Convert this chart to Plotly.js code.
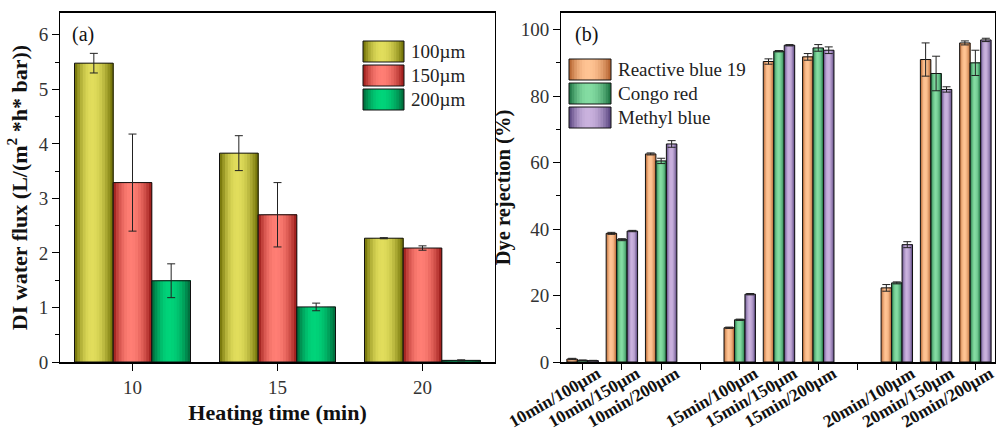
<!DOCTYPE html>
<html><head><meta charset="utf-8">
<script src="https://cdn.plot.ly/plotly-3.0.1.min.js"></script>
<style>html,body{margin:0;padding:0;background:#fff}#chart{width:999px;height:432px}</style>
</head><body><div id="chart"></div>
<script>
// ---------- Panel (a) data ----------
const heatTimes = ['10', '15', '20'];
const fluxSeriesNames = ['100µm', '150µm', '200µm'];
const flux100 = [5.48, 3.83, 2.27];
const flux150 = [3.29, 2.70, 2.09];
const flux200 = [1.49, 1.01, 0.03];
const fluxErr100 = [0.18, 0.32, 0.01];
const fluxErr150 = [0.89, 0.59, 0.04];
const fluxErr200 = [0.31, 0.07, 0.01];

// ---------- Panel (b) data ----------
const dyeCats = ['10min/100µm', '10min/150µm', '10min/200µm', '',
                 '15min/100µm', '15min/150µm', '15min/200µm', '',
                 '20min/100µm', '20min/150µm', '20min/200µm'];
const dyeNames = ['Reactive blue 19', 'Congo red', 'Methyl blue'];
const rb19      = [0.9, 38.7, 62.6, null, 10.3, 90.4, 91.8, null, 22.3, 91.0, 96.0];
const rb19Err   = [0.2, 0.3, 0.3, null, 0.2, 0.8, 1.0, null, 1.0, 5.0, 0.6];
const congo     = [0.5, 36.8, 60.5, null, 12.7, 93.5, 94.5, null, 23.8, 86.8, 90.0];
const congoErr  = [0.1, 0.3, 0.8, null, 0.2, 0.2, 1.0, null, 0.3, 5.2, 3.8];
const methyl    = [0.4, 39.4, 65.6, null, 20.4, 95.3, 93.8, null, 35.3, 82.0, 96.9];
const methylErr = [0.1, 0.2, 1.0, null, 0.2, 0.2, 1.0, null, 0.9, 0.8, 0.5];

// ---------- styling ----------
const FONT = 'Liberation Serif, Times New Roman, serif';
const W = 999, H = 432;
const gradA = [
  {edge: [105, 105, 0],  peak: [225, 221, 92]},
  {edge: [150, 22, 20],  peak: [255, 126, 116]},
  {edge: [0, 100, 55],   peak: [0, 212, 122]}
];
const gradB = [
  {edge: [175, 92, 40],  peak: [255, 196, 148]},
  {edge: [22, 108, 60],  peak: [132, 220, 162]},
  {edge: [82, 62, 122],  peak: [202, 178, 222]}
];

function profile(t) {
  const p = 0.45;
  const d = t < p ? (p - t) / p : (t - p) / (1 - p);
  return Math.max(0, 1 - Math.pow(d, 2.0));
}
function mix(a, b, f) {
  return 'rgb(' + a.map((v, i) => Math.round(v + (b[i] - v) * f)).join(',') + ')';
}

function gradientBars(xs, ys, errs, sIdx, nSeries, g, xa, ya, K) {
  const out = [];
  const bw = 0.8 / nSeries;
  const base = -0.4 + sIdx * bw;
  for (let j = 0; j < K; j++) {
    const t = (j + 0.5) / K;
    out.push({
      type: 'bar', x: xs, y: ys, xaxis: xa, yaxis: ya,
      width: bw - j * bw / K, offset: base + j * bw / K,
      marker: {color: mix(g.edge, g.peak, profile(t)), line: {width: 0}},
      showlegend: false, hoverinfo: 'skip'
    });
  }
  out.push({
    type: 'bar', x: xs, y: ys, xaxis: xa, yaxis: ya,
    width: bw, offset: base,
    marker: {color: 'rgba(0,0,0,0)', line: {color: '#111', width: 1}},
    error_y: {type: 'data', array: errs, visible: true, color: '#222', thickness: 1, width: 4},
    showlegend: false
  });
  return out;
}

let traces = [];
const fluxVals = [flux100, flux150, flux200];
const fluxErrs = [fluxErr100, fluxErr150, fluxErr200];
fluxVals.forEach((v, i) => {
  traces = traces.concat(gradientBars(heatTimes, v, fluxErrs[i], i, 3, gradA[i], 'x', 'y', 14));
});
const dyeX = dyeCats.map((c, i) => i);
const dyeVals = [rb19, congo, methyl];
const dyeErrs = [rb19Err, congoErr, methylErr];
dyeVals.forEach((v, i) => {
  traces = traces.concat(gradientBars(dyeX, v, dyeErrs[i], i, 3, gradB[i], 'x2', 'y2', 8));
});
const labelledX = dyeX.filter(i => dyeCats[i] !== '');
const labelledText = labelledX.map(i => dyeCats[i]);

// ---------- custom legends (shapes + text) ----------
const shapes = [];
const annotations = [];
function px(x) { return x / W; }
function py(y) { return 1 - y / H; }
function legendBox(x0, y0, x1, y1, g, label) {
  const K = 16;
  for (let j = 0; j < K; j++) {
    const t = (j + 0.5) / K;
    shapes.push({type: 'rect', xref: 'paper', yref: 'paper',
      x0: px(x0 + (x1 - x0) * j / K), x1: px(x1), y0: py(y1), y1: py(y0),
      fillcolor: mix(g.edge, g.peak, profile(t)), line: {width: 0}, layer: 'above'});
  }
  shapes.push({type: 'rect', xref: 'paper', yref: 'paper',
    x0: px(x0), x1: px(x1), y0: py(y1), y1: py(y0),
    fillcolor: 'rgba(0,0,0,0)', line: {color: '#111', width: 1}, layer: 'above'});
  annotations.push({xref: 'paper', yref: 'paper', x: px(x1 + 5), y: py((y0 + y1) / 2),
    xanchor: 'left', yanchor: 'middle', showarrow: false, text: label,
    font: {family: FONT, size: 19, color: '#222'}});
}
const legA = [[41, 62], [65, 86], [89, 110]];
fluxSeriesNames.forEach((n, i) => legendBox(363, legA[i][0], 404, legA[i][1], gradA[i], n));
const legB = [[59, 80], [83, 104], [107, 128]];
dyeNames.forEach((n, i) => legendBox(569, legB[i][0], 611, legB[i][1], gradB[i], n));

annotations.push({xref: 'paper', yref: 'paper', x: px(70), y: py(35), xanchor: 'left', yanchor: 'middle',
  showarrow: false, text: '(a)', font: {family: FONT, size: 20, color: '#111'}});
annotations.push({xref: 'paper', yref: 'paper', x: px(573), y: py(35), xanchor: 'left', yanchor: 'middle',
  showarrow: false, text: '(b)', font: {family: FONT, size: 20, color: '#111'}});

const tickFont = {family: FONT, size: 19, color: '#333'};
const yDom = [1 - 362 / H, 1 - 13 / H];

const layout = {
  width: W, height: H,
  margin: {l: 0, r: 0, t: 0, b: 0},
  paper_bgcolor: '#fff', plot_bgcolor: '#fff',
  barmode: 'overlay',
  showlegend: false,
  font: {family: FONT},
  xaxis: {
    domain: [60 / W, 495 / W], anchor: 'y', type: 'category', range: [-0.5, 2.5],
    showline: true, linecolor: '#000', linewidth: 2, mirror: true,
    ticks: 'outside', ticklen: 7, tickwidth: 1, tickcolor: '#000',
    tickfont: tickFont, showgrid: false, zeroline: false,
    title: {text: '<b>Heating time (min)</b>', font: {family: FONT, size: 22, color: '#111'}, standoff: 8}
  },
  yaxis: {
    domain: yDom, anchor: 'x', range: [0, 6.4], dtick: 1, tick0: 0,
    showline: true, linecolor: '#000', linewidth: 1, mirror: true,
    ticks: 'outside', ticklen: 7, tickwidth: 1, tickcolor: '#000',
    minor: {dtick: 0.5, ticks: 'outside', ticklen: 4, tickcolor: '#000', showgrid: false},
    tickfont: tickFont, showgrid: false, zeroline: false,
    title: {text: '<b>DI water flux (L/(m<sup>2</sup> *h* bar))</b>', font: {family: FONT, size: 22, color: '#111'}, standoff: 5}
  },
  xaxis2: {
    domain: [561 / W, 995 / W], anchor: 'y2', type: 'linear', range: [-0.55, 10.5],
    tickmode: 'array', tickvals: labelledX, ticktext: labelledText, tickangle: -30,
    ticklabelshift: 15, ticklabelstandoff: -13,
    showline: true, linecolor: '#000', linewidth: 2, mirror: true,
    ticks: 'outside', ticklen: 6, tickwidth: 1, tickcolor: '#000',
    minor: {dtick: 1, tick0: 0, ticks: 'outside', ticklen: 6, tickcolor: '#000', showgrid: false},
    tickfont: {family: FONT, size: 17.5, color: '#111', weight: 'bold'},
    showgrid: false, zeroline: false
  },
  yaxis2: {
    domain: yDom, anchor: 'x2', range: [0, 105], dtick: 20, tick0: 0,
    showline: true, linecolor: '#000', linewidth: 1, mirror: true,
    ticks: 'outside', ticklen: 7, tickwidth: 1, tickcolor: '#000',
    minor: {dtick: 10, ticks: 'outside', ticklen: 4, tickcolor: '#000', showgrid: false},
    tickfont: tickFont, showgrid: false, zeroline: false,
    title: {text: '<b>Dye rejection (%)</b>', font: {family: FONT, size: 20.5, color: '#111'}, standoff: 4}
  },
  shapes: shapes,
  annotations: annotations
};

Plotly.newPlot('chart', traces, layout, {staticPlot: true, displayModeBar: false});
</script>
</body></html>
